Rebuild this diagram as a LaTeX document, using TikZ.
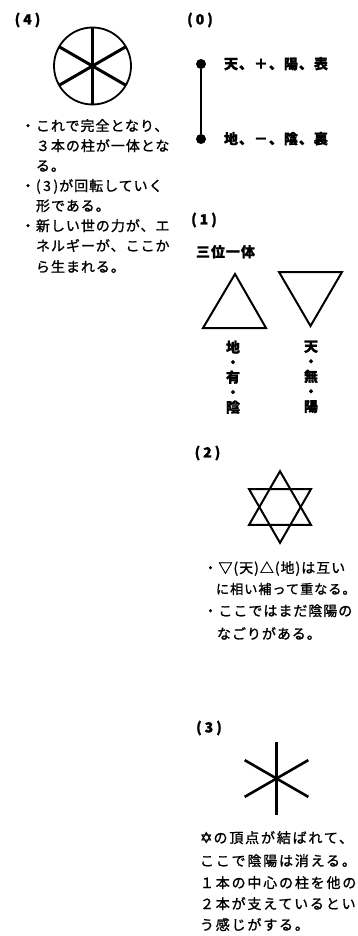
\documentclass[tikz,border=0pt]{standalone}
\usepackage{fontspec}
\newfontfamily\jp[LetterSpace=7,FakeBold=1.2]{Noto Sans CJK JP}
\newfontfamily\jpw[LetterSpace=13,FakeBold=1.2]{Noto Sans CJK JP}
\newfontfamily\dv[FakeBold=1.5]{DejaVu Sans}
\begin{document}
\begin{tikzpicture}[x=1pt,y=-1pt,
  txt/.style={anchor=base west, inner sep=0, outer sep=0, font=\jp\fontsize{14}{16}\selectfont},
  wtxt/.style={txt, font=\jpw\fontsize{14}{16}\selectfont},
  btxt/.style={txt, font=\jp\bfseries\fontsize{14}{16}\selectfont},
  head/.style={anchor=center, inner sep=0, outer sep=0, font=\jp\bfseries\fontsize{14}{16}\selectfont},
  vlab/.style={anchor=north, inner sep=0, outer sep=0, align=center, font=\jp\bfseries\fontsize{14}{15}\selectfont},
  dot/.style={circle, fill=black, inner sep=0, outer sep=0, minimum size=10},
  triline/.style={line width=2, line join=miter},
  spokes/.style={circle, inner sep=0, outer sep=0}
]
\useasboundingbox (0,0) rectangle (357,936);

% ---------- (4) ----------
\node[head] (h4) at (27.5,20) {(\hspace{3pt}4\hspace{3pt})};
\node[spokes, draw, line width=1.8, minimum size=77] (wheel) at (92.5,66) {};
\draw[line width=3] (wheel.90) -- (wheel.270);
\draw[line width=3] (wheel.30) -- (wheel.210);
\draw[line width=3] (wheel.150) -- (wheel.330);
\node[txt] (l1) at (21,131) {・これで完全となり、};
\node[txt] (l2) at (36,151) {３本の柱が一体とな};
\node[txt] (l3) at (36,171) {る。};
\node[txt] (l4) at (21,191) {・(\hspace{2.5pt}3\hspace{2.5pt})が回転していく};
\node[txt] (l5) at (36,211) {形である。};
\node[txt] (l6) at (21,231) {・新しい世の力が、エ};
\node[txt] (l7) at (36,251) {ネルギーが、ここか};
\node[txt] (l8) at (36,272) {ら生まれる。};

% ---------- (0) ----------
\node[head] (h0) at (200,20) {(\hspace{3pt}0\hspace{3pt})};
\node[dot] (top) at (201,64) {};
\node[dot] (bot) at (201,139) {};
\draw[line width=1.3] (top) -- (bot);
\node[btxt] (t0) at (224,69) {天、＋、陽、表};
\node[btxt] (b0) at (224,144) {地、－、陰、裏};

% ---------- (1) ----------
\node[head] (h1) at (204,220) {(\hspace{3pt}1\hspace{3pt})};
\node[btxt] (sanmi) at (196,257) {三位一体};
\coordinate (ua) at (235,274);
\coordinate (ub) at (203,328);
\coordinate (uc) at (266,328);
\draw[triline] (ua) -- (ub) -- (uc) -- cycle;
\coordinate (da) at (279,272);
\coordinate (db) at (342,272);
\coordinate (dc) at (310.5,326);
\draw[triline] (da) -- (db) -- (dc) -- cycle;
\node[vlab] (vu) at (233,340.5) {地\\・\\有\\・\\陰};
\node[vlab] (vd) at (311,340.5) {天\\・\\無\\・\\陽};

% ---------- (2) ----------
\node[head] (h2) at (207.5,453) {(\hspace{3pt}2\hspace{3pt})};
\coordinate (sa) at (280,471.2);
\coordinate (sb) at (249,524.9);
\coordinate (sc) at (311,524.9);
\draw[triline] (sa) -- (sb) -- (sc) -- cycle;
\coordinate (sd) at (249,489.1);
\coordinate (se) at (311,489.1);
\coordinate (sf) at (280,542.8);
\draw[triline] (sd) -- (se) -- (sf) -- cycle;
\node[txt] (m1) at (203.5,573) {・▽(天)△(地)は互い};
\node[txt, font=\jp\fontsize{13.2}{16}\selectfont] (m2) at (216,594) {に相い補って重なる。};
\node[txt] (m3) at (203.5,616) {・ここではまだ陰陽の};
\node[txt] (m4) at (217,639) {なごりがある。};

% ---------- (3) ----------
\node[head] (h3) at (209,728) {(\hspace{3pt}3\hspace{3pt})};
\node[spokes, minimum size=73.5] (ast) at (276.5,778.5) {};
\draw[line width=2.6] (ast.90) -- (ast.270);
\draw[line width=2.6] (ast.30) -- (ast.210);
\draw[line width=2.6] (ast.150) -- (ast.330);
\node[wtxt] (n1) at (200,843) {{\dv\fontsize{15}{16}\selectfont ✡}\hspace{1pt}の頂点が結ばれて、};
\node[wtxt] (n2) at (200,866) {ここで陰陽は消える。};
\node[wtxt] (n3) at (200,888) {１本の中心の柱を他の};
\node[wtxt] (n4) at (200,909) {２本が支えているとい};
\node[wtxt] (n5) at (200,930) {う感じがする。};
\end{tikzpicture}
\end{document}
